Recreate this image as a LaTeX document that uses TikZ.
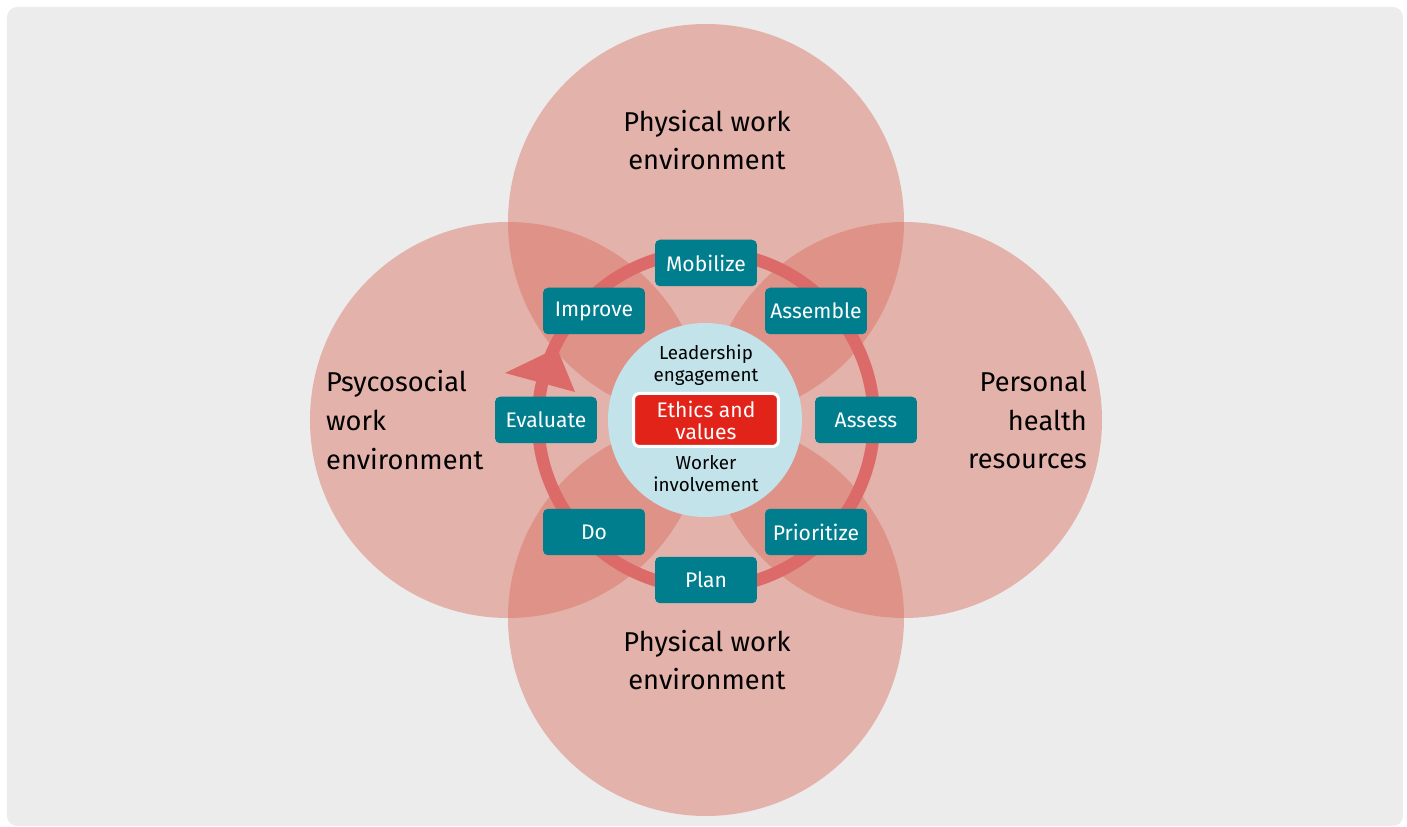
\documentclass[tikz,border=0pt]{standalone}
\usepackage{fontspec}
\setmainfont{Fira Sans}
\usepackage{tikz}
\usetikzlibrary{positioning}
\usepackage{xcolor}

\definecolor{bggray}{HTML}{ECECEC}
\definecolor{petal}{RGB}{218,109,94}
\definecolor{ringred}{HTML}{DC6A68}
\definecolor{tealbox}{HTML}{007E8E}
\definecolor{coreblue}{HTML}{C3E3EB}
\definecolor{ethicsred}{HTML}{E2231A}

\tikzset{
    petal/.style={fill=petal, fill opacity=0.45, draw=none},
    stepbox/.style={fill=tealbox, text=white, rounded corners=0.1cm, minimum width=2.04cm,
        minimum height=0.93cm, inner sep=0pt, font=\fontsize{12}{14}\selectfont},
    area/.style={font=\fontsize{15.5}{22}\selectfont},
    core/.style={align=center, font=\fontsize{10.7}{12.5}\selectfont}
}

\begin{document}
\begin{tikzpicture}[x=0.02cm,y=0.02cm]
        \useasboundingbox (-706,-407) rectangle (701,420);
        \fill[bggray, rounded corners=0.2cm] (-699,-406) rectangle (697,413);

        % four overlapping areas
        \fill[petal] (0,198) circle (198);
        \fill[petal] (0,-198) circle (198);
        \fill[petal] (-198,0) circle (198);
        \fill[petal] (198,0) circle (198);

        % cycle
        \draw[ringred, line width=0.25cm] (0,0) circle (168);
        \fill[ringred] (-201,47) -- (-149,72) -- (-131,28) -- cycle;

        \node[stepbox] (mobilize) at (0,157) {Mobilize};
        \node[stepbox] (assemble) at (110,109) {Assemble};
        \node[stepbox] (assess) at (160,0) {Assess};
        \node[stepbox] (prioritize) at (110,-112) {Prioritize};
        \node[stepbox] (plan) at (0,-160) {Plan};
        \node[stepbox] (do) at (-112,-112) {Do};
        \node[stepbox] (evaluate) at (-160,0) {Evaluate};
        \node[stepbox] (improve) at (-112,109) {Improve};

        % core
        \fill[coreblue] (-1,0) circle (97);
        \node[fill=ethicsred, draw=white, line width=0.06cm, rounded corners=0.12cm, text=white,
            minimum width=2.9cm, minimum height=1.06cm, inner sep=0pt, align=center,
            font=\fontsize{12}{12.5}\selectfont] (ethics) at (0,0) {Ethics and\\values};
        \node[core] (leader) at (0,55) {Leadership\\engagement};
        \node[core] (worker) at (0,-54) {Worker\\involvement};

        \node[area, align=center] (phystop) at (1,280) {Physical work\\environment};
        \node[area, align=center] (physbot) at (1,-240) {Physical work\\environment};
        \node[area, align=left, anchor=west] (psycho) at (-386,0) {Psycosocial\\work\\environment};
        \node[area, align=right, anchor=east] (personal) at (387,0) {Personal\\health\\resources};
\end{tikzpicture}
\end{document}
